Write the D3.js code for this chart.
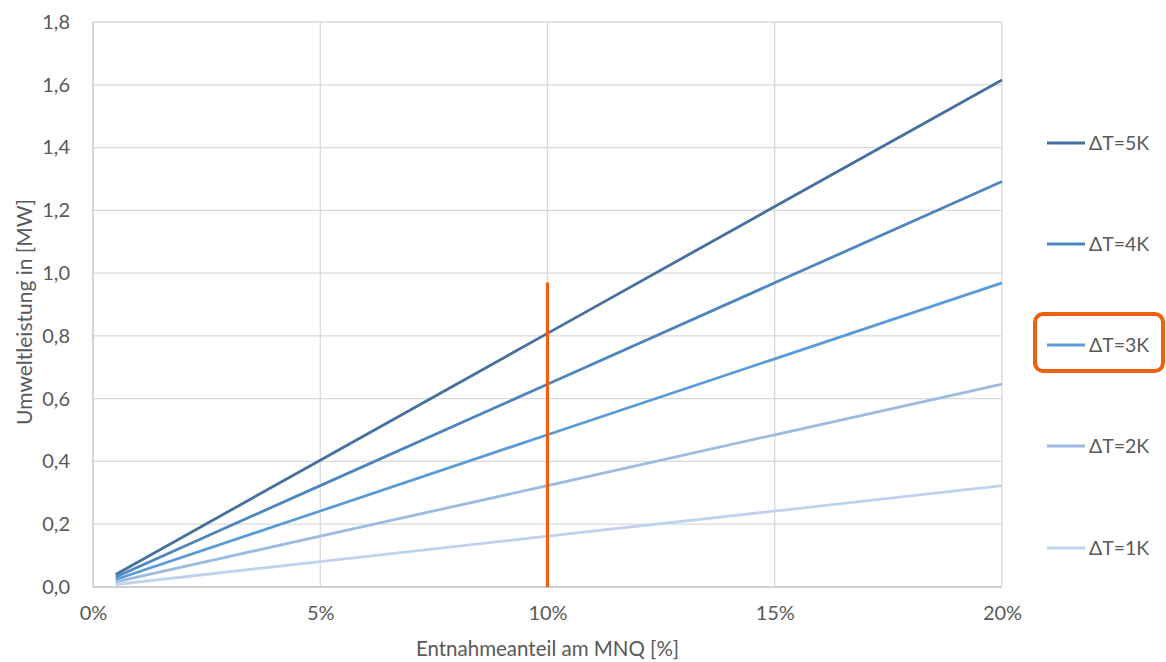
<!DOCTYPE html>
<html><head><meta charset="utf-8">
<script src="https://cdn.jsdelivr.net/npm/d3@7"></script>
<style>body{margin:0;background:#fff}svg{display:block}text{font-family:Lato,"Open Sans",sans-serif;fill:#595959}</style>
</head><body><svg id="c" width="1166" height="662"></svg>
<script>
const shares = [0.5, 5, 10, 15, 20];
const seriesNames = ["ΔT=5K","ΔT=4K","ΔT=3K","ΔT=2K","ΔT=1K"];
const v5 = [0.040, 0.404, 0.808, 1.212, 1.615];
const v4 = [0.032, 0.323, 0.646, 0.969, 1.292];
const v3 = [0.024, 0.242, 0.485, 0.727, 0.969];
const v2 = [0.016, 0.162, 0.323, 0.485, 0.646];
const v1 = [0.008, 0.081, 0.162, 0.242, 0.323];
const seriesValues = [v5, v4, v3, v2, v1];
const colors = ["#44719E","#4E85BE","#5B9BD5","#9CBAE2","#BFD3EE"];
const xTicks = [0,5,10,15,20];
const yTicks = [0,0.2,0.4,0.6,0.8,1.0,1.2,1.4,1.6,1.8];
const markerX = 10, markerTop = 0.97;
const highlighted = "ΔT=3K";

const svg = d3.select("#c");
const L=93, R=1002, T=22, B=587;
const x = d3.scaleLinear().domain([0,20]).range([L,R]);
const y = d3.scaleLinear().domain([0,1.8]).range([B,T]);
const fmtY = d => d3.format(".1f")(d).replace(".",",");

// grid
svg.append("g").selectAll("line").data(yTicks).join("line")
  .attr("x1",L).attr("x2",R).attr("y1",d=>y(d)).attr("y2",d=>y(d))
  .attr("stroke",d=>d===0?"#bfbfbf":"#d9d9d9").attr("stroke-width",1.3);
svg.append("g").selectAll("line").data(xTicks).join("line")
  .attr("y1",T).attr("y2",B).attr("x1",d=>x(d)).attr("x2",d=>x(d))
  .attr("stroke",d=>d===0?"#bfbfbf":"#d9d9d9").attr("stroke-width",1.3);

// axes labels via d3 axes
const yAxis = svg.append("g").attr("transform",`translate(${L},0)`)
  .call(d3.axisLeft(y).tickValues(yTicks).tickFormat(fmtY).tickSize(0).tickPadding(23));
const xAxis = svg.append("g").attr("transform",`translate(0,${B})`)
  .call(d3.axisBottom(x).tickValues(xTicks).tickFormat(d=>d+"%").tickSize(0).tickPadding(19));
[yAxis,xAxis].forEach(a=>{a.select(".domain").remove();a.selectAll("text").attr("font-size",20).style("fill","#595959").attr("font-family","Lato, sans-serif");});

// lines
const line = d3.line().x((d,i)=>x(shares[i])).y(d=>y(d));
svg.append("g").selectAll("path").data(seriesValues).join("path")
  .attr("d",line).attr("fill","none").attr("stroke",(d,i)=>colors[i]).attr("stroke-width",2.8);

// orange marker
svg.append("line").attr("x1",x(markerX)).attr("x2",x(markerX)).attr("y1",y(0)).attr("y2",y(markerTop))
  .attr("stroke","#EE6011").attr("stroke-width",3.2);

// legend
const ly = [143,244,345,446,548];
const lg = svg.append("g");
seriesNames.forEach((n,i)=>{
  lg.append("line").attr("x1",1047).attr("x2",1085).attr("y1",ly[i]).attr("y2",ly[i]).attr("stroke",colors[i]).attr("stroke-width",2.8);
  lg.append("text").attr("x",1089).attr("y",ly[i]+7).attr("font-size",19.5).text(n);
  if(n===highlighted){
    lg.append("rect").attr("x",1035).attr("y",ly[i]-31).attr("width",128).attr("height",57).attr("rx",8)
      .attr("fill","none").attr("stroke","#EE6011").attr("stroke-width",4);
  }
});

// titles
svg.append("text").attr("x",(L+R)/2).attr("y",656).attr("text-anchor","middle").attr("font-size",20.5).text("Entnahmeanteil am MNQ [%]");
svg.append("text").attr("transform",`translate(32,312) rotate(-90)`).attr("text-anchor","middle").attr("font-size",21).text("Umweltleistung in [MW]");
</script></body></html>
